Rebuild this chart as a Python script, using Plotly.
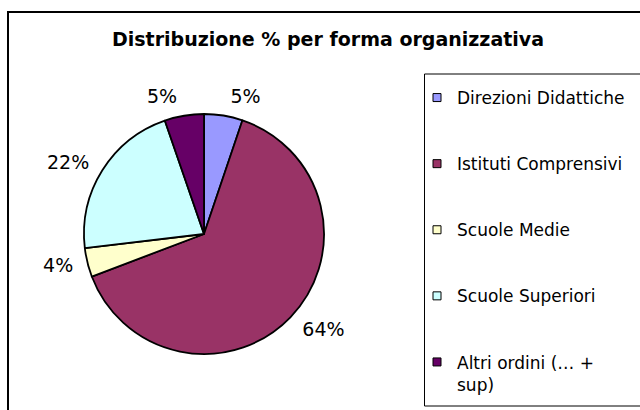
import plotly.graph_objects as go

categories = ["Direzioni Didattiche", "Istituti Comprensivi", "Scuole Medie",
              "Scuole Superiori", "Altri ordini (… + sup)"]
legend_labels = ["Direzioni Didattiche", "Istituti Comprensivi", "Scuole Medie",
                 "Scuole Superiori", "Altri ordini (… +<br>sup)"]
shares = [5.2, 64.1, 3.9, 21.6, 5.3]
colors = ["#9999FF", "#993366", "#FFFFCC", "#CCFFFF", "#660066"]
title_text = "Distribuzione % per forma organizzativa"

W, H = 640, 410
FONT = "DejaVu Sans"


def px(x):
    return x / W


def py(y):
    return 1 - y / H


CX, CY, R = 204, 234, 120      # pie centre / radius (pixels)
R_TXT = 129                    # radius used to place the outside percentage labels

fig = go.Figure()
# visible pie
fig.add_trace(go.Pie(
    labels=categories, values=shares, sort=False, direction="clockwise", rotation=0,
    marker=dict(colors=colors, line=dict(color="black", width=1.8)),
    textinfo="none",
    domain=dict(x=[px(CX - R), px(CX + R)], y=[py(CY + R), py(CY - R)]),
    showlegend=False, hoverinfo="label+percent",
))
# transparent companion pie, slightly larger, that carries the outside labels
fig.add_trace(go.Pie(
    labels=categories, values=shares, sort=False, direction="clockwise", rotation=0,
    marker=dict(colors=["rgba(0,0,0,0)"] * len(categories), line=dict(width=0)),
    texttemplate="%{percent:.0%}", textposition="outside",
    textfont=dict(family=FONT, size=19, color="black"),
    domain=dict(x=[px(CX - R_TXT), px(CX + R_TXT)], y=[py(CY + R_TXT), py(CY - R_TXT)]),
    showlegend=False, hoverinfo="skip",
))
for name, c in zip(legend_labels, colors):
    fig.add_trace(go.Scatter(
        x=[None], y=[None], mode="markers", name=name, legendgroup=name,
        marker=dict(symbol="square", size=8, color=c, line=dict(color="black", width=1)),
    ))

fig.update_layout(
    width=W, height=H,
    margin=dict(l=0, r=0, t=0, b=0),
    paper_bgcolor="white", plot_bgcolor="white",
    xaxis=dict(visible=False), yaxis=dict(visible=False),
    showlegend=True,
    legend=dict(
        x=px(417), y=py(80), xanchor="left", yanchor="top",
        traceorder="grouped", tracegroupgap=41, valign="top",
        font=dict(family=FONT, size=17, color="black"),
        bgcolor="rgba(0,0,0,0)", borderwidth=0, itemwidth=30,
    ),
    shapes=[
        dict(type="rect", xref="paper", yref="paper",
             x0=px(8), y0=py(12), x1=px(660), y1=py(430),
             line=dict(color="black", width=2), fillcolor="rgba(0,0,0,0)"),
        dict(type="rect", xref="paper", yref="paper",
             x0=px(424.5), y0=py(74), x1=px(660), y1=py(406),
             line=dict(color="black", width=1), fillcolor="rgba(0,0,0,0)"),
    ],
    annotations=[
        dict(text="<b>" + title_text + "</b>", x=px(328), y=py(39),
             xref="paper", yref="paper", xanchor="center", yanchor="middle",
             showarrow=False, font=dict(family=FONT, size=19, color="black")),
    ],
)

fig.write_html("out.html", config={"displayModeBar": False},
               post_script="document.body.style.margin='0';")
